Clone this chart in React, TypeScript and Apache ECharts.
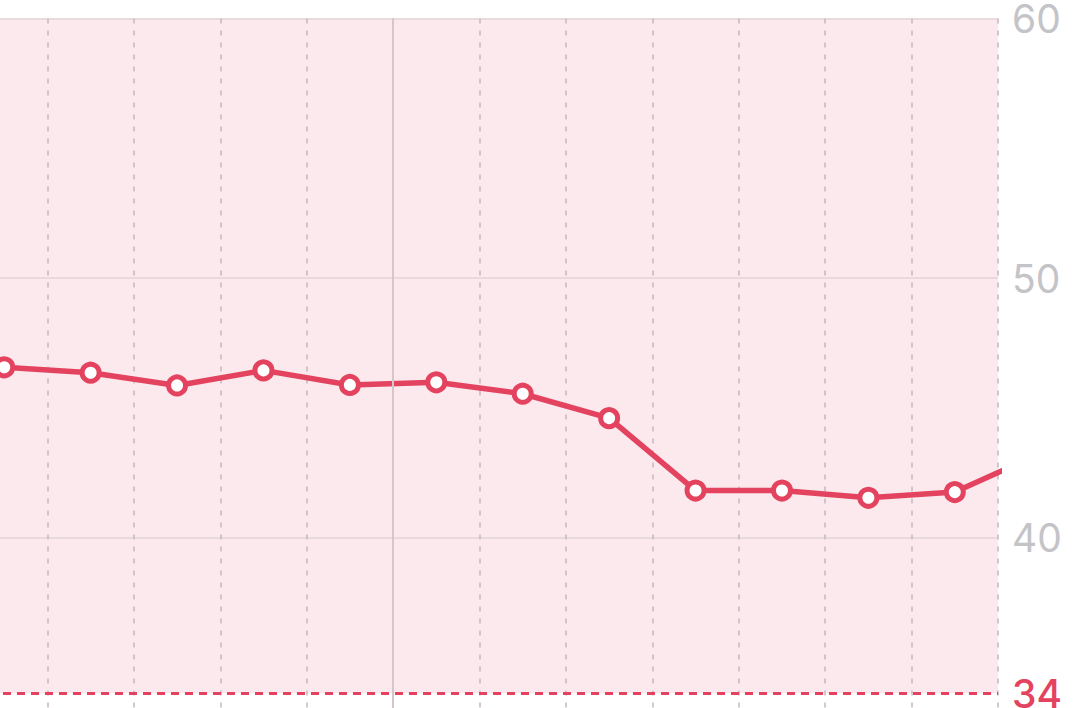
import React, { useEffect, useRef } from "react";
import * as echarts from "echarts";

const xIndex = [0, 1, 2, 3, 4, 5, 6, 7, 8, 9, 10, 11, 12];
const values = [46.56, 46.35, 45.86, 46.44, 45.88, 45.98, 45.54, 44.6, 41.81, 41.81, 41.53, 41.75, 43.26];
const yTicks = [30, 40, 50, 60];
const targetValue = 34;
const highlightX = 4.5;

const RED = "#e4435f";
const GRAY = "#c4c4c8";

const SHIFT_X = 38.8;
const EXTRA_BOTTOM = 89;

export default function App() {
  const ref = useRef<HTMLDivElement>(null);
  useEffect(() => {
    document.body.style.margin = "0";
    const chart = echarts.init(ref.current!, null, { renderer: "svg" });
    const data = xIndex.map((x, i) => [x, values[i]]);
    chart.setOption({
      animation: false,
      grid: {
        left: 0,
        right: 85,
        top: 18.5,
        bottom: 0,
        containLabel: false,
        outerBoundsMode: "none",
      },
      xAxis: {
        type: "value",
        min: -0.5,
        max: 11.5,
        interval: 1,
        axisLine: { show: false },
        axisTick: { show: false },
        axisLabel: { show: false },
        splitLine: { show: true, lineStyle: { color: "#c9bbc0", width: 1.6, type: [5, 7] } },
      },
      yAxis: {
        type: "value",
        position: "right",
        min: yTicks[0],
        max: yTicks[yTicks.length - 1],
        interval: 10,
        axisLine: { show: false },
        axisTick: { show: false },
        axisLabel: {
          color: GRAY,
          fontSize: 39,
          fontFamily: "Inter, 'Noto Sans', sans-serif",
          margin: 14,
          showMinLabel: false,
        },
        splitLine: { show: true, lineStyle: { color: "#e2d3d8", width: 1.5 } },
      },
      series: [
        {
          type: "line",
          z: -1,
          data: [],
          markArea: {
            silent: true,
            z: -1,
            itemStyle: { color: "#fbe9ee" },
            data: [[{ yAxis: targetValue }, { yAxis: yTicks[yTicks.length - 1] }]],
          },
        },
        {
          type: "line",
          data,
          clip: true,
          symbol: "circle",
          symbolSize: 17,
          showAllSymbol: true,
          lineStyle: { color: RED, width: 5.5 },
          itemStyle: { color: "#ffffff", borderColor: RED, borderWidth: 5 },
          markLine: {
            silent: true,
            symbol: "none",
            data: [
              {
                yAxis: targetValue,
                lineStyle: { color: RED, width: 3, type: [8, 6] },
                label: {
                  show: true,
                  position: "end",
                  formatter: String(targetValue),
                  color: RED,
                  fontSize: 39,
                  fontWeight: 500,
                  fontFamily: "Inter, 'Noto Sans', sans-serif",
                  distance: 14,
                },
              },
              {
                xAxis: highlightX,
                lineStyle: { color: "#d6c6cb", width: 2, type: "solid" },
                label: { show: false },
              },
            ],
          },
        },
      ],
    });
    return () => chart.dispose();
  }, []);
  return (
    <div style={{ position: "relative", width: 1083, height: 708, overflow: "hidden" }}>
      <div
        ref={ref}
        style={{
          position: "absolute",
          left: -SHIFT_X,
          top: 0,
          width: 1083 + SHIFT_X,
          height: 708 + EXTRA_BOTTOM,
        }}
      />
    </div>
  );
}
